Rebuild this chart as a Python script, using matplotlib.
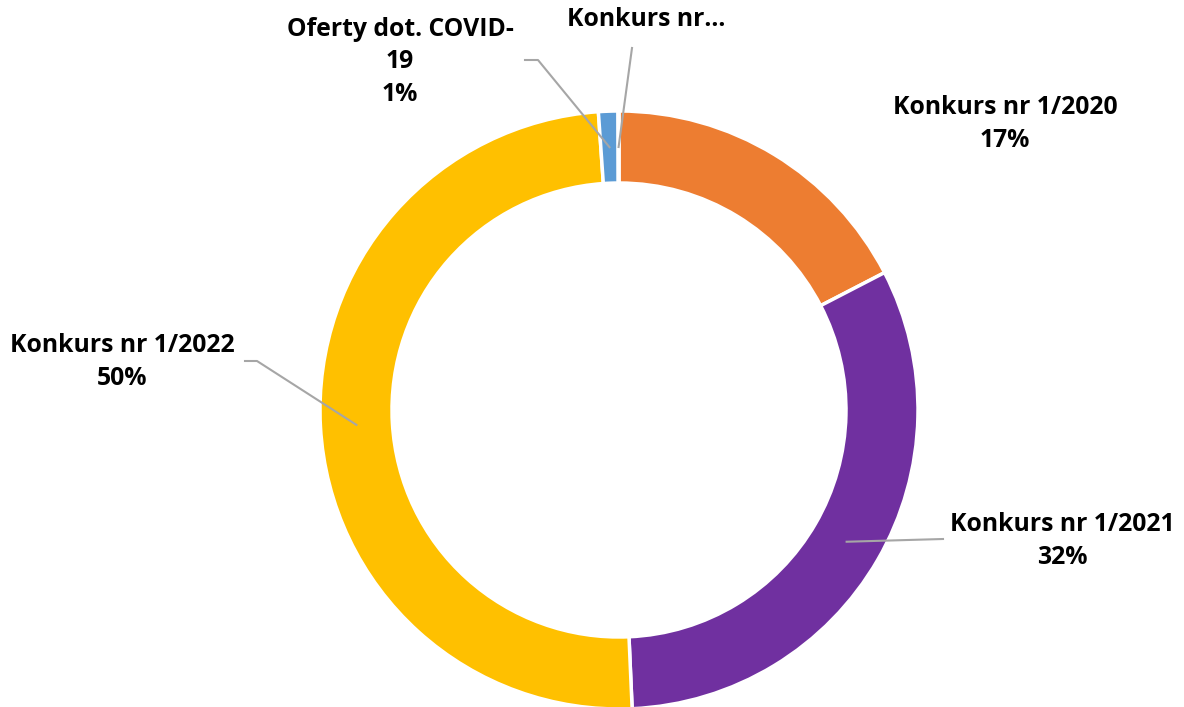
import numpy as np
import matplotlib.pyplot as plt

# slices clockwise from 12 o'clock
labels = ['Konkurs nr 1/2020', 'Konkurs nr 1/2021', 'Konkurs nr 1/2022',
          'Oferty dot. COVID-19', 'Konkurs nr…']
shares = [17.4, 31.9, 49.6, 1.05, 0.05]
pct_text = ['17%', '32%', '50%', '1%', '']
colors = ['#ED7D31', '#7030A0', '#FFC000', '#5B9BD5', '#A5A5A5']

W, H = 1184, 707
fig = plt.figure(figsize=(W / 100, H / 100), dpi=100)
ax = fig.add_axes([0, 0, 1, 1])
ax.set_xlim(0, W)
ax.set_ylim(0, H)
ax.set_aspect('equal')
ax.axis('off')

cx, cy = 619, H - 410
R, ring = 299, 72

wedges, _ = ax.pie(shares, colors=colors, startangle=90, counterclock=False,
                   radius=R, center=(cx, cy),
                   wedgeprops=dict(width=ring, edgecolor='white', linewidth=2.5))
ax.set_xlim(0, W)
ax.set_ylim(0, H)

# anchors for leader lines: middle of the ring at each wedge's mid angle
anchors = []
for w in wedges:
    mid = np.deg2rad((w.theta1 + w.theta2) / 2)
    rm = R - ring / 2
    anchors.append((cx + rm * np.cos(mid), cy + rm * np.sin(mid)))

font = dict(family='Open Sans', fontweight='bold', fontsize=17.8,
            ha='center', va='center', linespacing=1.42, color='black')
lc = dict(color='#A6A6A6', lw=1.5)

# label centres and leader start points (pixel coords, top-down)
label_pos = [(1005, 124), (1062, 541), (122, 362), (400, 62), (646, 20)]
leader_pts = [None, [(943, 539)], [(245, 361), (257, 361)],
              [(525, 60), (538, 60)], [(632, 48)]]

for i, lab in enumerate(labels):
    x, y = label_pos[i]
    if i == 3:
        txt = 'Oferty dot. COVID-\n19\n' + pct_text[i]
    elif pct_text[i]:
        txt = lab + '\n' + pct_text[i]
    else:
        txt = lab
    ax.text(x, H - y, txt, **font)
    if leader_pts[i]:
        xs = [p[0] for p in leader_pts[i]] + [anchors[i][0]]
        ys = [H - p[1] for p in leader_pts[i]] + [anchors[i][1]]
        ax.plot(xs, ys, **lc)

fig.savefig('out.png', dpi=100)
